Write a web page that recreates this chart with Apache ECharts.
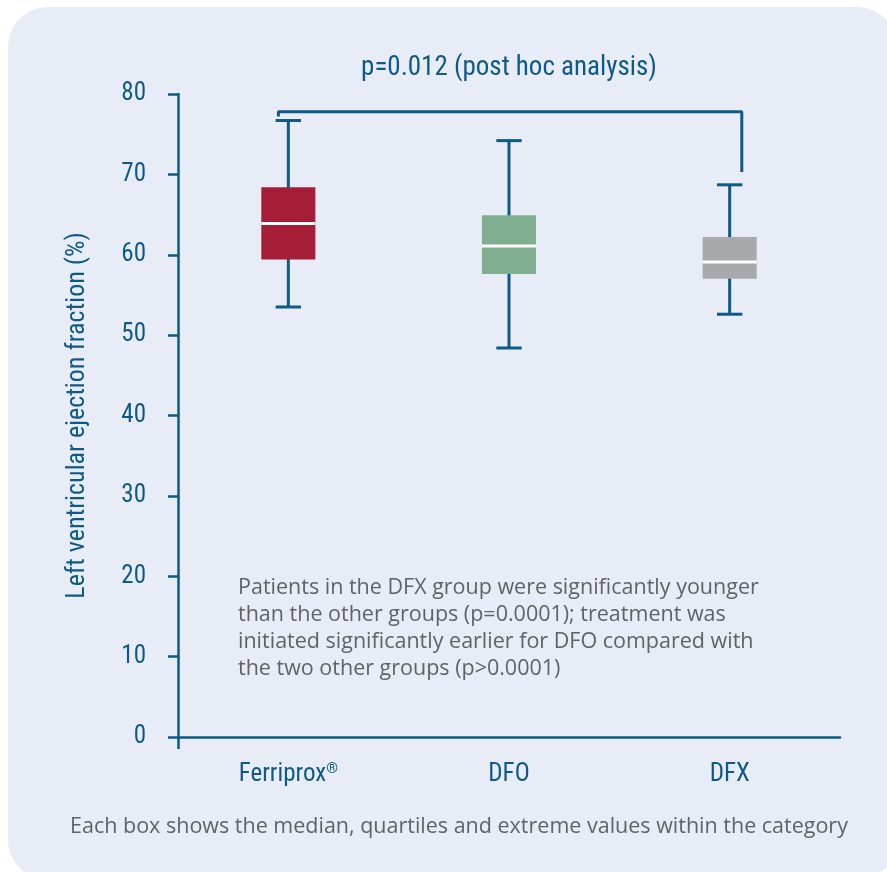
<!DOCTYPE html>
<html>
<head>
<meta charset="utf-8">
<script src="https://cdn.jsdelivr.net/npm/echarts@6/dist/echarts.min.js"></script>
<style>
  html, body { margin: 0; padding: 0; background: #ffffff; }
  #chart { width: 887px; height: 872px; }
</style>
</head>
<body>
<div id="chart"></div>
<script>
// Treatment groups
const categories = ['Ferriprox®', 'DFO', 'DFX'];
// LVEF (%) five-number summaries per group
const minValues    = [53.5, 48.4, 52.6];
const q1Values     = [59.4, 57.6, 57.0];
const medianValues = [63.9, 61.1, 59.1];
const q3Values     = [68.4, 64.9, 62.2];
const maxValues    = [76.7, 74.2, 68.7];
// y axis ticks
const yTicks = [0, 10, 20, 30, 40, 50, 60, 70, 80];
// significance bracket between Ferriprox and DFX (x in category units)
const bracketX = [-0.045, 2.055];
const bracketTop = 77.8;
const bracketLeftEnd = 77.2;
const bracketRightEnd = 70.3;

const boxColors = ['#A61D37', '#7FAF8F', '#A8A9AD'];
const navy = '#0E5A87';
const condensed = '"Liberation Sans Narrow", "Arial Narrow", "Roboto Condensed", sans-serif';
const body = '"Open Sans", "Noto Sans", sans-serif';

const boxData = categories.map((c, i) =>
  [i, minValues[i], q1Values[i], medianValues[i], q3Values[i], maxValues[i]]);

const bracketData = [
  [bracketX[0], bracketLeftEnd],
  [bracketX[0], bracketTop],
  [bracketX[1], bracketTop],
  [bracketX[1], bracketRightEnd]
];

function renderBox(params, api) {
  const x = api.value(0);
  const pMin = api.coord([x, api.value(1)]);
  const pQ1 = api.coord([x, api.value(2)]);
  const pMed = api.coord([x, api.value(3)]);
  const pQ3 = api.coord([x, api.value(4)]);
  const pMax = api.coord([x, api.value(5)]);
  const band = api.size([1, 0])[0];
  const boxW = band * 0.245;
  const capW = band * 0.115;
  const cx = pMed[0];
  const lineStyle = { stroke: navy, lineWidth: 3 };
  return {
    type: 'group',
    children: [
      { type: 'line', shape: { x1: cx, y1: pMax[1], x2: cx, y2: pMin[1] }, style: lineStyle },
      { type: 'line', shape: { x1: cx - capW / 2, y1: pMax[1], x2: cx + capW / 2, y2: pMax[1] }, style: lineStyle },
      { type: 'line', shape: { x1: cx - capW / 2, y1: pMin[1], x2: cx + capW / 2, y2: pMin[1] }, style: lineStyle },
      { type: 'rect', shape: { x: cx - boxW / 2, y: pQ3[1], width: boxW, height: pQ1[1] - pQ3[1] },
        style: { fill: boxColors[params.dataIndex] } },
      { type: 'line', shape: { x1: cx - boxW / 2, y1: pMed[1], x2: cx + boxW / 2, y2: pMed[1] },
        style: { stroke: '#ffffff', lineWidth: 3 } }
    ]
  };
}

// registered mark drawn as a superscript
function categoryLabel(value) {
  if (value.endsWith('®')) {
    return value.slice(0, -1) + '{sup|®}';
  }
  return value;
}

const chart = echarts.init(document.getElementById('chart'), null, { renderer: 'canvas' });

chart.setOption({
  backgroundColor: '#ffffff',
  animation: false,
  graphic: [
    { type: 'rect', z: -10, shape: { x: 8, y: 7, width: 889, height: 873, r: 40 },
      style: { fill: '#E8ECF7' } },
    { type: 'text', x: 509, y: 68,
      style: { text: 'p=0.012 (post hoc analysis)', fill: navy, font: '27px ' + condensed,
               textAlign: 'center', textVerticalAlign: 'middle' } },
    { type: 'text', x: 238, y: 575,
      style: { text: 'Patients in the DFX group were significantly younger\nthan the other groups (p=0.0001); treatment was\ninitiated significantly earlier for DFO compared with\nthe two other groups (p>0.0001)',
               fill: '#606366', font: '21.5px ' + body, lineHeight: 26.7,
               textAlign: 'left', textVerticalAlign: 'top' } },
    { type: 'text', x: 459, y: 827,
      style: { text: 'Each box shows the median, quartiles and extreme values within the category',
               fill: '#606366', font: '21.5px ' + body,
               textAlign: 'center', textVerticalAlign: 'middle' } }
  ],
  grid: { left: 178, right: 47, top: 94, bottom: 135, containLabel: false },
  xAxis: [
    {
      type: 'category',
      data: categories,
      boundaryGap: true,
      axisLine: { lineStyle: { color: navy, width: 2.5 } },
      axisTick: { alignWithLabel: true, length: 11, lineStyle: { color: navy, width: 2.5 } },
      axisLabel: {
        color: navy, fontFamily: condensed, fontSize: 25, margin: 25,
        formatter: categoryLabel,
        rich: { sup: { color: navy, fontFamily: condensed, fontSize: 15, verticalAlign: 'top', padding: [0, 0, 10, 0] } }
      },
      splitLine: { show: false }
    },
    {
      type: 'value',
      position: 'bottom',
      min: -0.5,
      max: 2.5,
      axisLine: { show: false },
      axisLabel: { show: false },
      axisTick: { show: true, customValues: [-0.5], length: 12, lineStyle: { color: navy, width: 2.5 } },
      splitLine: { show: false }
    }
  ],
  yAxis: {
    type: 'value',
    min: yTicks[0],
    max: yTicks[yTicks.length - 1],
    interval: 10,
    name: 'Left ventricular ejection fraction (%)',
    nameLocation: 'middle',
    nameRotate: 90,
    nameGap: 88,
    nameTextStyle: { color: navy, fontFamily: condensed, fontSize: 26 },
    axisLine: { show: true, onZero: false, lineStyle: { color: navy, width: 2.5 } },
    axisTick: { show: true, length: 10, lineStyle: { color: navy, width: 2.5 } },
    axisLabel: { color: navy, fontFamily: condensed, fontSize: 25, margin: 32, padding: [4, 0, 0, 0] },
    splitLine: { show: false }
  },
  series: [
    {
      type: 'custom',
      xAxisIndex: 0,
      yAxisIndex: 0,
      renderItem: renderBox,
      encode: { x: 0, y: [1, 2, 3, 4, 5] },
      data: boxData
    },
    {
      type: 'line',
      xAxisIndex: 1,
      yAxisIndex: 0,
      data: bracketData,
      showSymbol: false,
      symbol: 'none',
      lineStyle: { color: navy, width: 3 },
      silent: true
    }
  ]
});
</script>
</body>
</html>
